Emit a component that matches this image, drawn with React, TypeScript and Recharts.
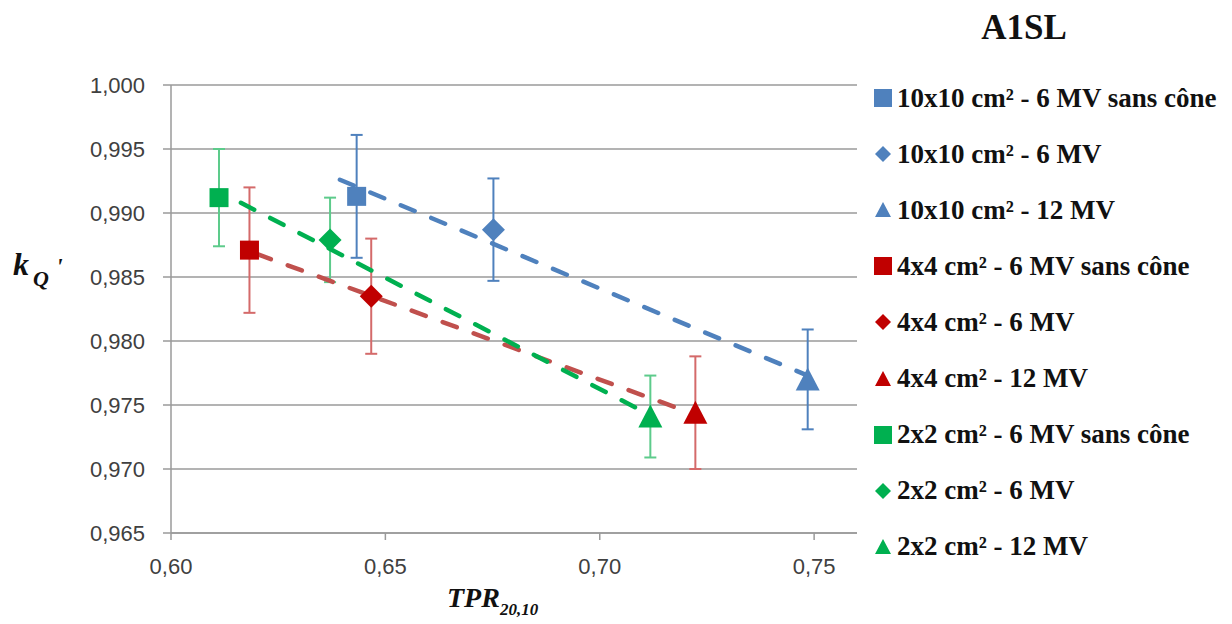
import { ScatterChart, Scatter, XAxis, YAxis, CartesianGrid, ErrorBar, Legend, Label } from 'recharts'

// one point per series
const seriesNames = [
  '10x10 cm² - 6 MV sans cône',
  '10x10 cm² - 6 MV',
  '10x10 cm² - 12 MV',
  '4x4 cm² - 6 MV sans cône',
  '4x4 cm² - 6 MV',
  '4x4 cm² - 12 MV',
  '2x2 cm² - 6 MV sans cône',
  '2x2 cm² - 6 MV',
  '2x2 cm² - 12 MV',
]
const tprValues = [0.6433, 0.6752, 0.7485, 0.6183, 0.6467, 0.7223, 0.6112, 0.6371, 0.7118]
const kqValues = [0.9913, 0.9887, 0.9770, 0.9871, 0.9835, 0.9744, 0.9912, 0.9879, 0.9741]
const kqErrors = [0.0048, 0.0040, 0.0039, 0.0049, 0.0045, 0.0044, 0.0038, 0.0033, 0.0032]

// dashed trend lines (start / end)
const blueTrendX = [0.6394, 0.7485]
const blueTrendY = [0.9926, 0.9773]
const redTrendX = [0.6200, 0.7211]
const redTrendY = [0.9868, 0.9744]
const greenTrendX = [0.6163, 0.7118]
const greenTrendY = [0.9908, 0.9742]

const xTicks = [0.6, 0.65, 0.7, 0.75]
const yTicks = [0.965, 0.97, 0.975, 0.98, 0.985, 0.99, 0.995, 1.0]

const markerColors = ['#4F81BD', '#C00000', '#00B050']
const trendColors = ['#4F81BD', '#C0504D', '#00B050']
const barColors = ['#4F81BD', '#D46A6A', '#5DCB8B']
const shapes = ['square', 'diamond', 'triangle']

const gridColor = '#9a9a9a'
const serif = '"Liberation Serif", "Times New Roman", serif'

const trends = [
  blueTrendX.map((x, i) => ({ x, y: blueTrendY[i] })),
  redTrendX.map((x, i) => ({ x, y: redTrendY[i] })),
  greenTrendX.map((x, i) => ({ x, y: greenTrendY[i] })),
]

const series = seriesNames.map((name, i) => ({
  name,
  color: markerColors[Math.floor(i / 3)],
  barColor: barColors[Math.floor(i / 3)],
  shape: shapes[i % 3],
  data: [{ x: tprValues[i], y: kqValues[i], err: kqErrors[i] }],
}))

function Marker(props: any) {
  const { cx, cy, fill, kind } = props
  if (cx == null || cy == null) return <g />
  if (kind === 'square') {
    return <rect x={cx - 9.5} y={cy - 9.5} width={19} height={19} fill={fill} />
  }
  if (kind === 'diamond') {
    const r = 11.5
    return <polygon points={`${cx},${cy - r} ${cx + r},${cy} ${cx},${cy + r} ${cx - r},${cy}`} fill={fill} />
  }
  return <polygon points={`${cx},${cy - 12} ${cx + 12},${cy + 11} ${cx - 12},${cy + 11}`} fill={fill} />
}

function LegendIcon({ kind, color }: { kind: string; color: string }) {
  return (
    <svg width={18} height={18} style={{ display: 'block' }}>
      {kind === 'square' && <rect x={0} y={0} width={18} height={18} fill={color} />}
      {kind === 'diamond' && <polygon points="9,1 17,9 9,17 1,9" fill={color} />}
      {kind === 'triangle' && <polygon points="9,1 17,16 1,16" fill={color} />}
    </svg>
  )
}

function SideLegend() {
  return (
    <div style={{ position: 'relative', width: 372, height: 624, fontFamily: serif, color: '#111' }}>
      <div style={{ position: 'absolute', left: 0, width: 328, top: 8, textAlign: 'center', fontSize: 35, fontWeight: 'bold', lineHeight: '40px', fontFamily: serif }}>
        A1SL
      </div>
      {series.map((s, i) => (
        <div key={s.name} style={{ position: 'absolute', left: 14, top: 98 + i * 56.1 - 16, height: 32, display: 'flex', alignItems: 'center', whiteSpace: 'nowrap' }}>
          <LegendIcon kind={s.shape} color={s.color} />
          <span style={{ marginLeft: 5, fontSize: 27, fontWeight: 'bold', fontFamily: serif }}>{s.name}</span>
        </div>
      ))}
    </div>
  )
}

function YTitle(props: any) {
  const { x, y, height } = props.viewBox
  const base = y + height / 2 - 34
  return (
    <text fontFamily={serif} fontWeight="bold" fontStyle="italic" fill="#111">
      <tspan x={x + 13} y={base} fontSize={32}>k</tspan>
      <tspan x={x + 33} y={base + 11} fontSize={22}>Q</tspan>
      <tspan x={x + 56} y={base - 1} fontSize={24}>'</tspan>
    </text>
  )
}

function XTitle(props: any) {
  const { x, y } = props.viewBox
  return (
    <text fontFamily={serif} fontWeight="bold" fontStyle="italic" fill="#111">
      <tspan x={x + 276} y={y + 74} fontSize={28}>TPR</tspan>
      <tspan dy={8} fontSize={17}>20,10</tspan>
    </text>
  )
}

const tickStyle = { fontSize: 22, fill: '#404040', fontFamily: '"Liberation Sans", Arial, sans-serif' }

export default function App() {
  return (
    <div style={{ position: 'absolute', left: 0, top: 0, width: 1232, height: 624, background: '#fff' }}>
      <ScatterChart width={1232} height={624} margin={{ top: 85, right: 375, bottom: 0, left: 0 }}>
        <CartesianGrid vertical={false} stroke={gridColor} strokeWidth={1.5} />
        <XAxis
          type="number"
          dataKey="x"
          domain={[0.6, 0.76]}
          ticks={xTicks}
          allowDataOverflow
          height={91}
          tickSize={7}
          tickMargin={18}
          tickFormatter={(v: number) => v.toFixed(2).replace('.', ',')}
          tick={tickStyle}
          stroke={gridColor}
          strokeWidth={1.5}
        >
          <Label content={XTitle} />
        </XAxis>
        <YAxis
          type="number"
          dataKey="y"
          domain={[0.965, 1.0]}
          ticks={yTicks}
          allowDataOverflow
          width={171}
          tickSize={8}
          tickMargin={18}
          tickFormatter={(v: number) => v.toFixed(3).replace('.', ',')}
          tick={tickStyle}
          stroke={gridColor}
          strokeWidth={1.5}
        >
          <Label content={YTitle} />
        </YAxis>
        {trends.map((t, i) => (
          <Scatter
            key={'trend' + i}
            data={t}
            fill={trendColors[i]}
            legendType="none"
            line={{ stroke: trendColors[i], strokeWidth: 4.5, strokeDasharray: '15 18', strokeLinecap: 'round' }}
            shape={() => <g />}
            isAnimationActive={false}
          />
        ))}
        {series.map((s) => (
          <Scatter
            key={s.name}
            name={s.name}
            data={s.data}
            fill={s.color}
            shape={(p: any) => <Marker {...p} kind={s.shape} fill={s.color} />}
            isAnimationActive={false}
          >
            <ErrorBar dataKey="err" direction="y" width={6} stroke={s.barColor} strokeWidth={2} />
          </Scatter>
        ))}
        <Legend
          layout="vertical"
          align="center"
          verticalAlign="middle"
          wrapperStyle={{ position: 'absolute', left: 860, top: 0, width: 372, height: 624 }}
          content={() => <SideLegend />}
        />
      </ScatterChart>
    </div>
  )
}
